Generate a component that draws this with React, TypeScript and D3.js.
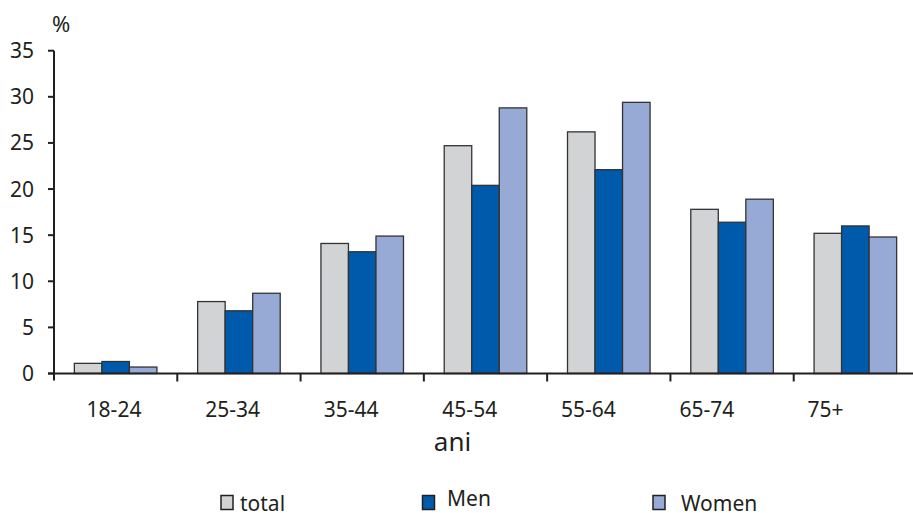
import React from "react";
import * as d3 from "d3";

const categories = ["18-24", "25-34", "35-44", "45-54", "55-64", "65-74", "75+"];
const seriesNames = ["total", "Men", "Women"];
const totalValues = [1.1, 7.8, 14.1, 24.7, 26.2, 17.8, 15.2];
const menValues = [1.3, 6.8, 13.2, 20.4, 22.1, 16.4, 16.0];
const womenValues = [0.7, 8.7, 14.9, 28.8, 29.4, 18.9, 14.8];
const yTicks = [0, 5, 10, 15, 20, 25, 30, 35];
const colors = ["#d1d3d4", "#005aab", "#97a9d5"];

const W = 913, H = 513;
const left = 54, right = 917, top = 50.7, bottom = 373.5;
const font = "'Noto Sans', 'Open Sans', sans-serif";
const ink = "#231f20";

export default function App() {
  const x = d3.scaleBand<string>().domain(categories).range([left, right]);
  const inner = d3.scaleBand<string>().domain(seriesNames).range([0, x.bandwidth()]).paddingInner(0).paddingOuter(0.74);
  const xLabel = d3.scalePoint<string>().domain(categories).range([114, 825.5]);
  const y = d3.scaleLinear().domain([0, 35]).range([bottom, top]);
  const series = [totalValues, menValues, womenValues];
  const legendPos = [
    { sx: 221, sy: 495.5, tx: 240, ty: 510.5 },
    { sx: 422.5, sy: 495.5, tx: 447, ty: 506 },
    { sx: 653, sy: 495.5, tx: 681, ty: 510.5 },
  ];
  return (
    <svg width={W} height={H} style={{ position: "absolute", left: 0, top: 0 }} fontFamily={font}>
      <rect width={W} height={H} fill="#fff" />
      {series.map((vals, si) =>
        vals.map((v, ci) => (
          <rect
            key={`${si}-${ci}`}
            x={x(categories[ci])! + inner(seriesNames[si])!}
            y={y(v)}
            width={inner.bandwidth()}
            height={y(0) - y(v)}
            fill={colors[si]}
            stroke="#333"
            strokeWidth={1.3}
          />
        ))
      )}
      <line x1={left} x2={left} y1={top} y2={bottom + 7} stroke={ink} strokeWidth={2} />
      <line x1={48} x2={W} y1={bottom} y2={bottom} stroke={ink} strokeWidth={2} />
      {yTicks.map((t) => (
        <g key={t}>
          <line x1={48} x2={left} y1={y(t)} y2={y(t)} stroke={ink} strokeWidth={2} />
          <text x={34} y={y(t) + 7.5} textAnchor="end" fontSize={21} fill={ink}>{t}</text>
        </g>
      ))}
      <text x={52} y={32} fontSize={22} fill={ink}>%</text>
      {categories.map((c, i) => (
        <g key={c}>
          {i > 0 && <line x1={x(c)!} x2={x(c)!} y1={bottom} y2={bottom + 8} stroke={ink} strokeWidth={2} />}
          <text x={xLabel(c)!} y={416.5} textAnchor="middle" fontSize={21} fill={ink}>{c}</text>
        </g>
      ))}
      <text x={452.5} y={451} textAnchor="middle" fontSize={26} fill={ink}>ani</text>
      {seriesNames.map((s, i) => (
        <g key={s}>
          <rect x={legendPos[i].sx} y={legendPos[i].sy} width={12} height={14} fill={colors[i]} stroke={ink} strokeWidth={1.5} />
          <text x={legendPos[i].tx} y={legendPos[i].ty} fontSize={21} fill={ink}>{s}</text>
        </g>
      ))}
    </svg>
  );
}
